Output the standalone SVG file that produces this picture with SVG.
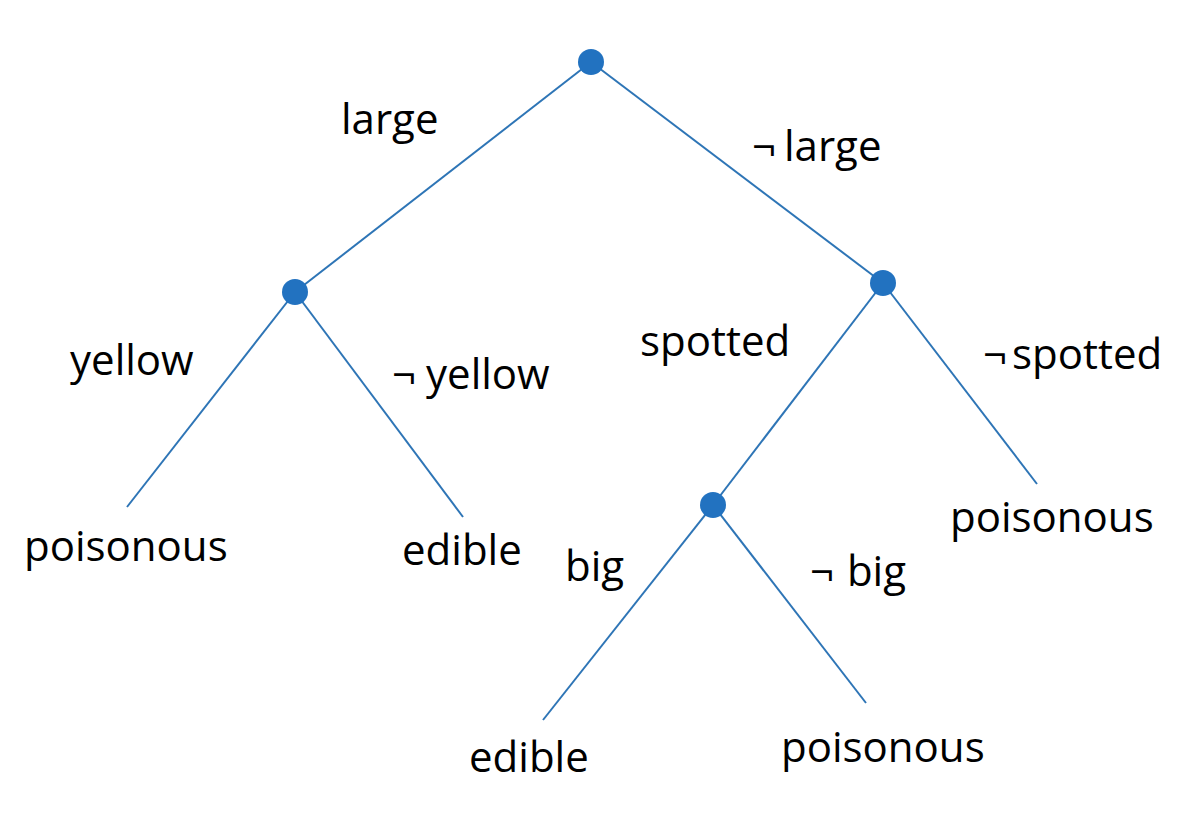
<svg xmlns="http://www.w3.org/2000/svg" width="1193" height="817" viewBox="0 0 1193 817">
<style>
.e{stroke:#2E75B6;stroke-width:2;fill:none}
.n{fill:#2272C0}
text{font-family:"Open Sans","Noto Sans",sans-serif;font-size:42px;fill:#000}
</style>
<rect width="1193" height="817" fill="#fff"/>
<g id="connectors">
<line class="e" x1="591" y1="62" x2="295" y2="292"/>
<line class="e" x1="591" y1="62" x2="883" y2="283"/>
<line class="e" x1="295" y1="292" x2="127" y2="507"/>
<line class="e" x1="295" y1="292" x2="463" y2="517"/>
<line class="e" x1="883" y1="283" x2="713" y2="505"/>
<line class="e" x1="883" y1="283" x2="1037" y2="484"/>
<line class="e" x1="713" y1="505" x2="543" y2="720"/>
<line class="e" x1="713" y1="505" x2="866" y2="703"/>
</g>
<g id="root"><circle class="n" cx="591" cy="62" r="13"/></g>
<g id="large"><circle class="n" cx="295" cy="292" r="13"/></g>
<g id="notlarge"><circle class="n" cx="883" cy="283" r="13"/></g>
<g id="spotted"><circle class="n" cx="713" cy="505" r="13"/></g>
<g id="labels">
<text x="341" y="134">large</text>
<text x="752" y="161">¬<tspan dx="8">large</tspan></text>
<text x="70" y="375">yellow</text>
<text x="392" y="389">¬<tspan dx="10">yellow</tspan></text>
<text x="640" y="356">spotted</text>
<text x="983" y="369">¬<tspan dx="5">spotted</tspan></text>
<text x="565" y="581">big</text>
<text x="810" y="586">¬<tspan dx="2"> big</tspan></text>
</g>
<g id="leaves">
<text x="24" y="561">poisonous</text>
<text x="402" y="565">edible</text>
<text x="950" y="532">poisonous</text>
<text x="469" y="772">edible</text>
<text x="781" y="762">poisonous</text>
</g>
</svg>
